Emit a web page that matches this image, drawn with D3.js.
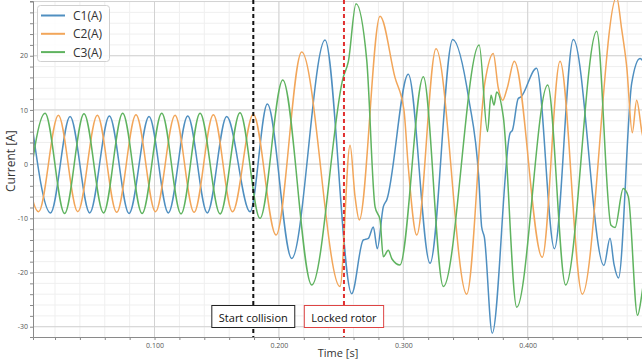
<!DOCTYPE html>
<html>
<head>
<meta charset="utf-8">
<script src="https://cdn.jsdelivr.net/npm/d3@7"></script>
<style>
  body { margin: 0; background: #fff; }
  text { font-family: "Open Sans", "Noto Sans", sans-serif; }
</style>
</head>
<body>
<div id="chart"></div>
<script>
const c1 = [
  [0.0007, 8.6], [0.0164, -9.0], [0.0321, 8.8], [0.0479, -9.0], [0.0637, 8.9],
  [0.0795, -9.1], [0.0956, 8.8], [0.1111, -9.0], [0.1267, 8.9], [0.1424, -9.0],
  [0.1580, 8.8], [0.1768, -8.8], [0.1907, 11.1], [0.2103, -17.4], [0.2371, 22.9],
  [0.2585, -23.9], [0.2678, -14.0], [0.2719, -13.7], [0.2759, -11.6], [0.2791, -15.6],
  [0.2839, -7.9], [0.2867, -6.6], [0.3040, 16.6], [0.3215, -18.3], [0.3397, 23.0],
  [0.3528, 11.8], [0.3606, -2.3], [0.3630, -11.6], [0.3652, -13.5], [0.3715, -31.2],
  [0.3858, 5.7], [0.3878, 6.3], [0.3924, 12.1], [0.3946, 12.4], [0.4071, 17.7],
  [0.4215, -15.6], [0.4367, 23.0], [0.4613, -18.7], [0.4662, -13.7], [0.4694, -18.5],
  [0.4730, -21.0], [0.4836, 14.9], [0.4903, 19.5], [0.4950, 18.0]
];
const c2 = [
  [-0.0087, 9.0], [0.0068, -8.8], [0.0227, 9.0], [0.0383, -8.8], [0.0540, 9.0],
  [0.0696, -8.9], [0.0851, 9.1], [0.1008, -8.8], [0.1165, 9.0], [0.1318, -8.9],
  [0.1473, 9.1], [0.1627, -8.8], [0.1794, 9.2], [0.1977, -13.1], [0.2183, 20.7],
  [0.2491, -22.6], [0.2572, 3.5], [0.2612, -6.0], [0.2646, -10.3], [0.2813, 27.3],
  [0.2933, 16.0], [0.3005, 10.0], [0.3040, -0.5], [0.3108, -13.1], [0.3263, 21.3],
  [0.3510, -24.0], [0.3657, 15.2], [0.3723, 20.4], [0.3764, 14.0], [0.3799, 11.8],
  [0.3836, 14.1], [0.3892, 19.0], [0.4117, -17.2], [0.4260, 19.0], [0.4439, -24.0],
  [0.4715, 30.8], [0.4755, 25.0], [0.4796, 18.0], [0.4841, 5.8], [0.4876, 11.8],
  [0.4919, 5.8], [0.4950, 3.0]
];
const c3 = [
  [-0.0037, -9.1], [0.0120, 9.4], [0.0277, -9.1], [0.0433, 9.3], [0.0590, -9.0],
  [0.0744, 9.4], [0.0900, -9.1], [0.1058, 9.4], [0.1213, -9.2], [0.1366, 9.4],
  [0.1527, -9.2], [0.1687, 9.5], [0.1848, -10.0], [0.2031, 15.5], [0.2264, -22.3],
  [0.2518, 16.1], [0.2558, 18.9], [0.2620, 29.6], [0.2706, 19.2], [0.2773, -7.9],
  [0.2813, -10.3], [0.2839, -17.1], [0.2879, -15.9], [0.2909, -17.5], [0.2973, -18.6],
  [0.3161, 16.1], [0.3322, -22.6], [0.3610, 22.0], [0.3677, 6.0], [0.3705, 12.7],
  [0.3729, 10.9], [0.3751, 13.3], [0.3804, 8.7], [0.3912, -26.4], [0.4161, 14.6],
  [0.4305, -22.3], [0.4555, 24.5], [0.4670, -11.3], [0.4702, -11.7], [0.4768, -4.5],
  [0.4809, -6.0], [0.4883, -27.9], [0.4919, -23.8], [0.4950, -18.0]
];

const seriesNames = ["C1(A)", "C2(A)", "C3(A)"];
const seriesColors = ["#4f8fc0", "#f2a65a", "#5fb35f"];
const seriesData = [c1, c2, c3];

const eventTimes = [0.1794, 0.2523];
const eventLabels = ["Start collision", "Locked rotor"];
const eventColors = ["#111", "#e03030"];

const xMajor = [0.1, 0.2, 0.3, 0.4];
const yMajor = [-30, -20, -10, 0, 10, 20, 30];

const width = 642, height = 364;
const plotL = 33, plotR = 642, plotT = 1, plotB = 337;

const svg = d3.select("#chart").append("svg")
  .attr("width", width)
  .attr("height", height);

const x = d3.scaleLinear().domain([0.0023, 0.4919]).range([plotL, plotR]);
const y = d3.scaleLinear().domain([-31.9, 30.1]).range([plotB, plotT]);

const xMinor = d3.range(0, 0.5, 0.02).filter(t => t >= x.domain()[0]);
const yMinor = d3.range(-30, 31, 2);

// grid: minor first, then major
const grid = svg.append("g");
grid.selectAll(".vminor").data(xMinor).join("line")
  .attr("x1", d => x(d)).attr("x2", d => x(d))
  .attr("y1", plotT).attr("y2", plotB)
  .attr("stroke", "#efefef");
grid.selectAll(".hminor").data(yMinor).join("line")
  .attr("x1", plotL).attr("x2", plotR)
  .attr("y1", d => y(d)).attr("y2", d => y(d))
  .attr("stroke", "#efefef");
grid.selectAll(".vmajor").data(xMajor).join("line")
  .attr("x1", d => x(d)).attr("x2", d => x(d))
  .attr("y1", plotT).attr("y2", plotB)
  .attr("stroke", "#d2d2d2");
grid.selectAll(".hmajor").data(yMajor).join("line")
  .attr("x1", plotL).attr("x2", plotR)
  .attr("y1", d => y(d)).attr("y2", d => y(d))
  .attr("stroke", "#d2d2d2");

// series
svg.append("clipPath").attr("id", "plot")
  .append("rect").attr("x", plotL).attr("y", 0)
  .attr("width", plotR - plotL).attr("height", plotB);

const line = d3.line()
  .x(d => x(d[0]))
  .y(d => y(d[1]))
  .curve(d3.curveMonotoneX);

svg.append("g").attr("clip-path", "url(#plot)")
  .selectAll("path").data(seriesData).join("path")
  .attr("d", line)
  .attr("fill", "none")
  .attr("stroke", (d, i) => seriesColors[i])
  .attr("stroke-width", 1.5);

// axes
const fmtX = d3.format(".3f");
const xAxis = svg.append("g")
  .attr("transform", `translate(0,${plotB})`)
  .call(d3.axisBottom(x).tickValues(xMinor).tickSize(3).tickPadding(3)
    .tickFormat(d => xMajor.some(m => Math.abs(m - d) < 1e-6) ? fmtX(d) : ""));
const yAxis = svg.append("g")
  .attr("transform", `translate(${plotL},0)`)
  .call(d3.axisLeft(y).tickValues(yMinor).tickSize(3).tickPadding(2)
    .tickFormat(d => d % 10 === 0 && d !== 30 ? d : ""));
[xAxis, yAxis].forEach(a => {
  a.select(".domain").attr("stroke", "#8a8a8a");
  a.selectAll(".tick line").attr("stroke", "#8a8a8a");
  a.selectAll(".tick text").attr("fill", "#555").style("font-size", "7px");
});

// event markers
eventTimes.forEach((t, i) => {
  svg.append("line")
    .attr("x1", x(t)).attr("x2", x(t))
    .attr("y1", 0).attr("y2", plotB)
    .attr("stroke", eventColors[i])
    .attr("stroke-width", 2)
    .attr("stroke-dasharray", "4,3");
  const g = svg.append("g");
  const txt = g.append("text")
    .attr("x", x(t)).attr("y", 317)
    .attr("text-anchor", "middle")
    .attr("dominant-baseline", "central")
    .attr("fill", "#111")
    .style("font-size", "11px")
    .text(eventLabels[i]);
  const w = txt.node().getComputedTextLength() + 14;
  g.insert("rect", "text")
    .attr("x", x(t) - w / 2).attr("y", 305.5)
    .attr("width", w).attr("height", 22)
    .attr("fill", "#fff")
    .attr("stroke", i === 0 ? "#222" : "#d44")
    .attr("stroke-width", 1);
});

// axis titles
svg.append("text")
  .attr("x", x(0.2475)).attr("y", 357)
  .attr("text-anchor", "middle")
  .attr("fill", "#333")
  .style("font-size", "11px")
  .text("Time [s]");
svg.append("text")
  .attr("transform", `translate(15,${y(0) - 3}) rotate(-90)`)
  .attr("text-anchor", "middle")
  .attr("fill", "#333")
  .style("font-size", "12px")
  .text("Current [A]");

// legend
const legend = svg.append("g");
legend.append("rect")
  .attr("x", 37.5).attr("y", 5.5)
  .attr("width", 72).attr("height", 56)
  .attr("rx", 3)
  .attr("fill", "#fff").attr("fill-opacity", 0.85)
  .attr("stroke", "#d0d0d0");
seriesNames.forEach((name, i) => {
  const ly = 15.5 + i * 18.3;
  legend.append("line")
    .attr("x1", 41).attr("x2", 65)
    .attr("y1", ly).attr("y2", ly)
    .attr("stroke", seriesColors[i])
    .attr("stroke-width", 2);
  legend.append("text")
    .attr("x", 73).attr("y", ly)
    .attr("dominant-baseline", "central")
    .attr("fill", "#333")
    .style("font-size", "12px")
    .text(name);
});
</script>
</body>
</html>
